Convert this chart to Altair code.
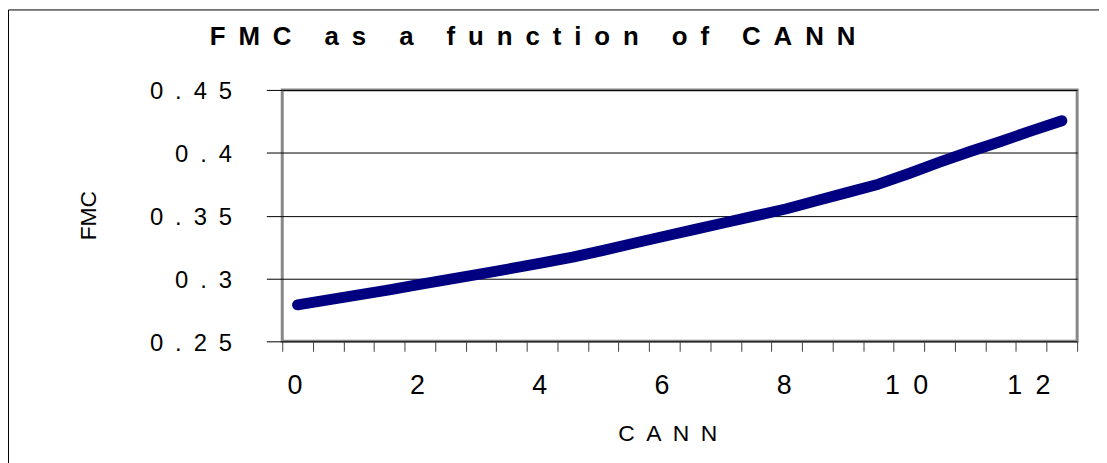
import altair as alt
import pandas as pd

# ---- data ----
cann = [0, 0.5, 1, 1.5, 2, 2.5, 3, 3.5, 4, 4.5, 5, 5.5, 6, 6.5,
        7, 7.5, 8, 8.5, 9, 9.5, 10, 10.5, 11, 11.5, 12, 12.5]
fmc = [0.279, 0.283, 0.287, 0.291, 0.2953, 0.2995, 0.3037, 0.308,
       0.3125, 0.317, 0.3224, 0.328, 0.3336, 0.339, 0.3445, 0.350,
       0.3555, 0.362, 0.3685, 0.375, 0.3835, 0.3925, 0.401, 0.409,
       0.4175, 0.4255]
x_tick_marks = [-0.25, 0.25, 0.75, 1.25, 1.75, 2.25, 2.75, 3.25, 3.75,
                4.25, 4.75, 5.25, 5.75, 6.25, 6.75, 7.25, 7.75, 8.25,
                8.75, 9.25, 9.75, 10.25, 10.75, 11.25, 11.75, 12.25, 12.75]
x_label_values = [0, 2, 4, 6, 8, 10, 12]
y_tick_values = [0.25, 0.3, 0.35, 0.4, 0.45]

title_text = "FMC as a function of CANN"
x_title = "CANN"
y_title = "FMC"

SP = "\u2002"  # en space, mimics the wide character spacing
FONT = "Liberation Sans"

df = pd.DataFrame({"CANN": cann, "FMC": fmc})
frame_df = pd.DataFrame({"k": [0]})

border = alt.Chart(frame_df).mark_rect(
    fillOpacity=0, stroke="#000000", strokeWidth=1
).encode(
    x=alt.value(-275.5), x2=alt.value(1300),
    y=alt.value(-80.5), y2=alt.value(700)
)

x_axis = alt.Axis(
    values=x_tick_marks + x_label_values,
    labelExpr="datum.value % 2 == 0 ? join(split(format(datum.value, 'd'), ''), '" + SP + "') : ''",
    tickOpacity={"condition": {"test": "datum.value % 1 == 0", "value": 0}, "value": 1},
    tickSize=10, tickColor="#404040", tickWidth=1,
    domain=False, grid=False,
    labelFont=FONT, labelFontSize=27, labelColor="black",
    labelPadding=22, labelOffset=-3, labelOverlap=False, labelFlush=False, labelBound=False,
    title=SP.join(x_title), titleFont=FONT, titleFontSize=23, titleFontWeight="normal",
    titleColor="black", titleX=387.5, titleY=99.7, titleAlign="center",
    titleBaseline="alphabetic",
)

y_axis = alt.Axis(
    values=y_tick_values,
    labelExpr="join(split(format(datum.value, '~g'), ''), '" + SP + "')",
    tickSize=16, tickColor="black", tickWidth=1,
    domain=False, grid=True, gridColor="black", gridWidth=1,
    labelFont=FONT, labelFontSize=24, labelColor="black",
    labelPadding=35, labelOffset=2, labelOverlap=False, labelFlush=False, labelBound=False,
    title=y_title, titleFont=FONT, titleFontSize=23, titleFontWeight="normal",
    titleColor="black", titleAngle=270, titleX=-188, titleY=126,
    titleAlign="center", titleBaseline="alphabetic",
)

line = alt.Chart(df).mark_line(
    color="#000080", strokeWidth=11, strokeCap="round", strokeJoin="round"
).encode(
    x=alt.X("CANN:Q", scale=alt.Scale(domain=[-0.25, 12.75], nice=False, zero=False), axis=x_axis),
    y=alt.Y("FMC:Q", scale=alt.Scale(domain=[0.25, 0.45], nice=False, zero=False), axis=y_axis),
)

chart = alt.layer(border, line).properties(
    width=800,
    height=253,
    autosize=alt.AutoSizeParams(type="none"),
    padding={"left": 276, "top": 81, "right": 22, "bottom": 121},
    title=alt.TitleParams(
        text=SP.join(title_text), font=FONT, fontSize=26, fontWeight="bold",
        color="black", anchor="start", frame="group", offset=0,
        dx=-73, dy=61.7, baseline="alphabetic",
    ),
).configure(
    background="white"
).configure_view(
    stroke="#888888", strokeWidth=3
)

chart.save("out.html", embed_options={"renderer": "svg", "actions": False})
